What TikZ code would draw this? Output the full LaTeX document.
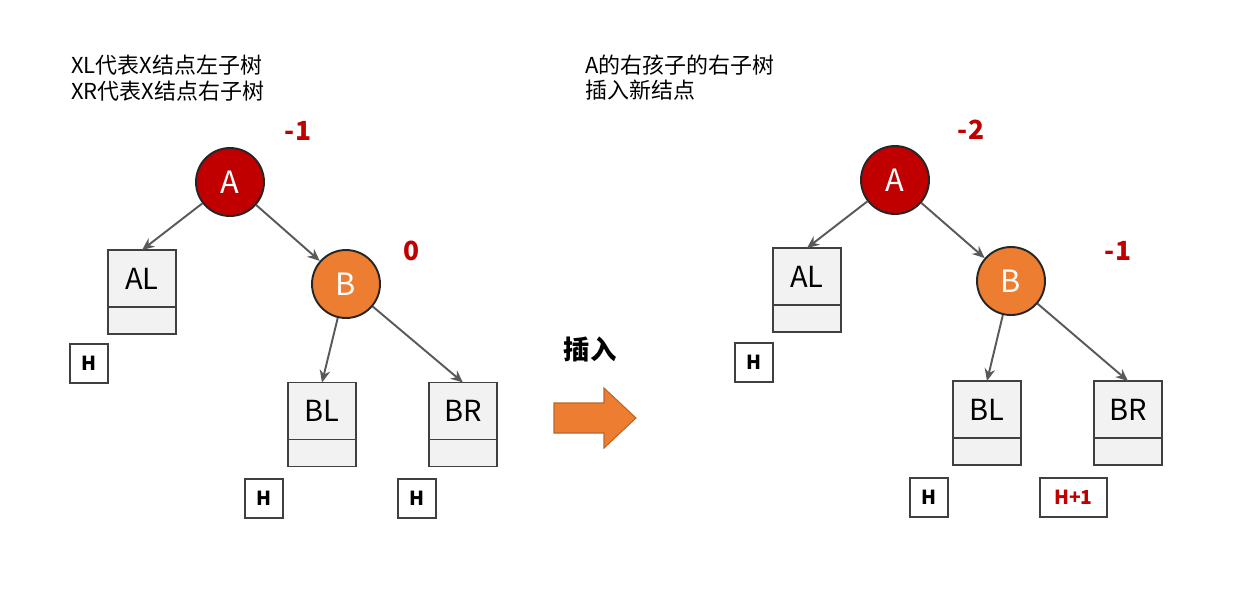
\documentclass[tikz,border=0pt]{standalone}
\usepackage{fontspec}
\setmainfont{Noto Sans CJK SC}
\usetikzlibrary{positioning, arrows.meta}

\definecolor{nodered}{HTML}{C00000}
\definecolor{nodeorange}{HTML}{ED7D31}
\definecolor{arroworange}{HTML}{B9652A}
\definecolor{boxfill}{HTML}{F2F2F2}
\definecolor{boxline}{HTML}{404040}
\definecolor{edgegray}{HTML}{595959}

\tikzset{
  treenode/.style={circle, draw=black!85, line width=1.1pt, minimum size=1.36cm,
    inner sep=0pt, text=white, font=\fontsize{17.5}{20}\selectfont},
  keytop/.style={rectangle, draw=boxline, fill=boxfill, line width=1.1pt,
    minimum width=1.36cm, minimum height=1.14cm, inner sep=0pt, outer sep=0pt,
    font=\fontsize{16.5}{19}\selectfont},
  keybot/.style={rectangle, draw=boxline, fill=boxfill, line width=1.1pt,
    minimum width=1.36cm, minimum height=0.54cm, inner sep=0pt, outer sep=0pt},
  hbox/.style={rectangle, draw=boxline, fill=white, line width=0.6pt,
    minimum width=0.76cm, minimum height=0.78cm, inner sep=0pt,
    font=\bfseries\fontsize{11}{13}\selectfont},
  bal/.style={text=nodered, font=\bfseries\fontsize{15}{18}\selectfont},
  edge/.style={draw=edgegray, line width=1.1pt, -{Stealth[length=7pt,width=6pt]}},
}

\begin{document}
\begin{tikzpicture}[x=0.02cm, y=-0.02cm, every node/.style={font=\fontsize{12.5}{15}\selectfont}]

\useasboundingbox (0,0) rectangle (1233,603);

% left: before insertion
\node[anchor=west] (noteL) at (65,65) {XL代表X结点左子树};
\node[anchor=west] (noteR) at (65,91) {XR代表X结点右子树};

\node[treenode, fill=nodered]    (a) at (230,182) {A};
\node[treenode, fill=nodeorange] (b) at (346,284) {B};

\node[keytop] (al) at (142,278.5) {AL};
\node[keybot, below=0pt of al] (albot) {};
\node[keytop] (bl) at (322,411) {BL};
\node[keybot, below=0pt of bl] (blbot) {};
\node[keytop] (br) at (463,411) {BR};
\node[keybot, below=0pt of br] (brbot) {};

\node[hbox] (alh) at (89,363.5)  {H};
\node[hbox] (blh) at (264,498.5) {H};
\node[hbox] (brh) at (417,498.5) {H};

\node[bal] (abal) at (298,131) {-1};
\node[bal] (bbal) at (412,251) {0};

\draw[edge] (a) -- (al.north);
\draw[edge] (a) -- (b);
\draw[edge] (b) -- (bl.north);
\draw[edge] (b) -- (br.north);

% middle: insert arrow
\node[font=\bfseries\fontsize{15}{18}\selectfont] (ins) at (590,349) {插入};
\draw[fill=nodeorange, draw=arroworange, line width=0.6pt]
  (554,403) -- (604,403) -- (604,388) -- (636,418) -- (604,448) -- (604,433) -- (554,433) -- cycle;

% right: after insertion
\node[anchor=west] (noteA) at (579,65) {A的右孩子的右子树};
\node[anchor=west] (noteB) at (579,90) {插入新结点};

\node[treenode, fill=nodered]    (a2) at (895,180) {A};
\node[treenode, fill=nodeorange] (b2) at (1011,281) {B};

\node[keytop] (al2) at (807,276.5) {AL};
\node[keybot, below=0pt of al2] (al2bot) {};
\node[keytop] (bl2) at (987,409.5) {BL};
\node[keybot, below=0pt of bl2] (bl2bot) {};
\node[keytop] (br2) at (1128,409.5) {BR};
\node[keybot, below=0pt of br2] (br2bot) {};

\node[hbox] (al2h) at (754,362.5) {H};
\node[hbox] (bl2h) at (929,497.5) {H};
\node[hbox, minimum width=1.34cm, text=nodered] (br2h) at (1073.5,497.5) {H+1};

\node[bal] (a2bal) at (971,130) {-2};
\node[bal] (b2bal) at (1118,251) {-1};

\draw[edge] (a2) -- (al2.north);
\draw[edge] (a2) -- (b2);
\draw[edge] (b2) -- (bl2.north);
\draw[edge] (b2) -- (br2.north);

\end{tikzpicture}
\end{document}
